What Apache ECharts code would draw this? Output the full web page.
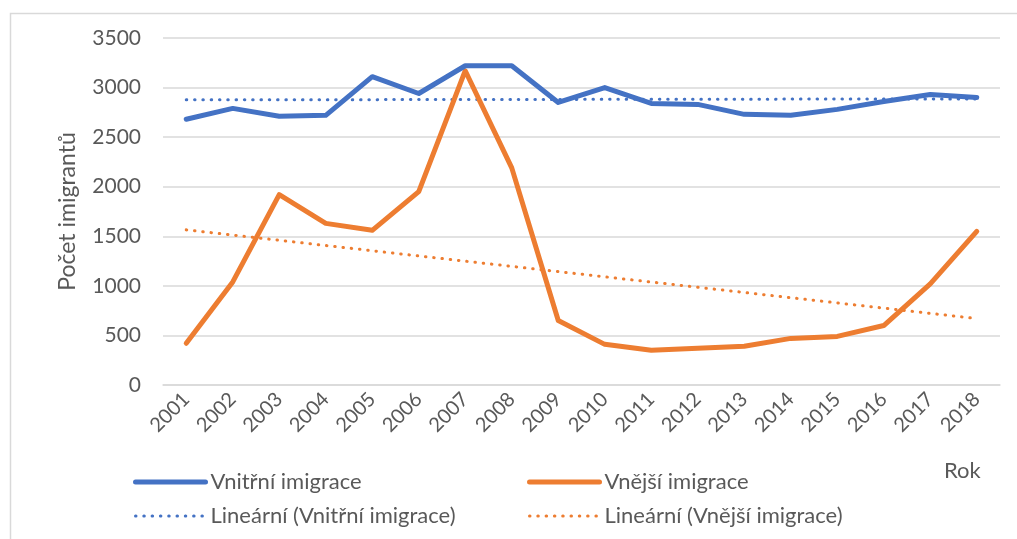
<!DOCTYPE html>
<html>
<head>
<meta charset="utf-8">
<script src="https://cdn.jsdelivr.net/npm/echarts@6/dist/echarts.min.js"></script>
<style>
  html, body { margin: 0; padding: 0; background: #fff; }
  #chart { width: 1017px; height: 539px; }
</style>
</head>
<body>
<div id="chart"></div>
<script>
// Years on the category axis
const years = ['2001','2002','2003','2004','2005','2006','2007','2008','2009',
               '2010','2011','2012','2013','2014','2015','2016','2017','2018'];

// Internal immigration (number of immigrants per year)
const vnitrni = [2680, 2790, 2710, 2720, 3110, 2940, 3220, 3220, 2850,
                 3000, 2840, 2830, 2730, 2720, 2780, 2860, 2930, 2900];

// External immigration
const vnejsi = [420, 1040, 1920, 1630, 1560, 1950, 3170, 2190, 650,
                410, 350, 370, 390, 470, 490, 600, 1020, 1550];

// Linear trend lines: value at the first and at the last year
const trendVnitrni = [2876, 2886];
const trendVnejsi = [1565, 670];

// Y axis ticks
const yTicks = { min: 0, max: 3500, step: 500 };

const BLUE = '#4472C4';
const ORANGE = '#ED7D31';
const TEXT = '#595959';
const FONT = 'Lato';

function trendData(ends) {
  return [[years[0], ends[0]], [years[years.length - 1], ends[1]]];
}

const dotted = { type: [0.5, 7.8], cap: 'round', width: 3 };
const solid = { width: 5, cap: 'round', join: 'round' };

function legendItem(name, color, style) {
  return {
    name: name,
    itemStyle: { opacity: 0 },
    lineStyle: Object.assign({ color: color }, style)
  };
}

const legendBase = {
  orient: 'vertical', top: 471, itemGap: 12, padding: 0,
  itemWidth: 70, itemHeight: 24,
  textStyle: { color: TEXT, fontSize: 22, fontFamily: FONT, padding: [0, 0, 0, 0] }
};

const chart = echarts.init(document.getElementById('chart'), null, { renderer: 'canvas' });
chart.setOption({
  animation: false,
  textStyle: { fontFamily: FONT, color: TEXT },
  grid: { left: 163, right: 17, top: 38, bottom: 154 },
  graphic: [
    {
      type: 'rect', left: 8, top: 11, silent: true,
      shape: { width: 1040, height: 560 },
      style: { fill: 'none', stroke: '#d9d9d9', lineWidth: 1.5 }
    },
    {
      type: 'text', left: 944, top: 460,
      style: { text: 'Rok', font: '22px ' + FONT, fill: TEXT }
    }
  ],
  xAxis: {
    type: 'category',
    data: years,
    boundaryGap: true,
    axisLine: { lineStyle: { color: '#d9d9d9', width: 1.5 } },
    axisTick: { show: false },
    axisLabel: { rotate: 45, color: TEXT, fontSize: 20, fontFamily: FONT, margin: 11, interval: 0 }
  },
  yAxis: {
    type: 'value',
    min: yTicks.min, max: yTicks.max, interval: yTicks.step,
    name: 'Počet imigrantů',
    nameLocation: 'middle',
    nameRotate: 90,
    nameGap: 84,
    nameTextStyle: { color: TEXT, fontSize: 23, fontFamily: FONT },
    axisLine: { show: false },
    axisTick: { show: false },
    axisLabel: { color: TEXT, fontSize: 21, fontFamily: FONT, margin: 22, formatter: v => String(v) },
    splitLine: { lineStyle: { color: '#d9d9d9', width: 1.5 } }
  },
  legend: [
    Object.assign({}, legendBase, {
      left: 133,
      data: [legendItem('Vnitřní imigrace', BLUE, solid),
             legendItem('Lineární (Vnitřní imigrace)', BLUE, dotted)]
    }),
    Object.assign({}, legendBase, {
      left: 527,
      data: [legendItem('Vnější imigrace', ORANGE, solid),
             legendItem('Lineární (Vnější imigrace)', ORANGE, dotted)]
    })
  ],
  series: [
    {
      name: 'Lineární (Vnitřní imigrace)', type: 'line', symbol: 'none',
      data: trendData(trendVnitrni), z: 1,
      lineStyle: Object.assign({ color: BLUE }, dotted), itemStyle: { color: BLUE }
    },
    {
      name: 'Lineární (Vnější imigrace)', type: 'line', symbol: 'none',
      data: trendData(trendVnejsi), z: 1,
      lineStyle: Object.assign({ color: ORANGE }, dotted), itemStyle: { color: ORANGE }
    },
    {
      name: 'Vnitřní imigrace', type: 'line', symbol: 'none', data: vnitrni, z: 3,
      lineStyle: Object.assign({ color: BLUE }, solid), itemStyle: { color: BLUE }
    },
    {
      name: 'Vnější imigrace', type: 'line', symbol: 'none', data: vnejsi, z: 2,
      lineStyle: Object.assign({ color: ORANGE }, solid), itemStyle: { color: ORANGE }
    }
  ]
});
</script>
</body>
</html>
